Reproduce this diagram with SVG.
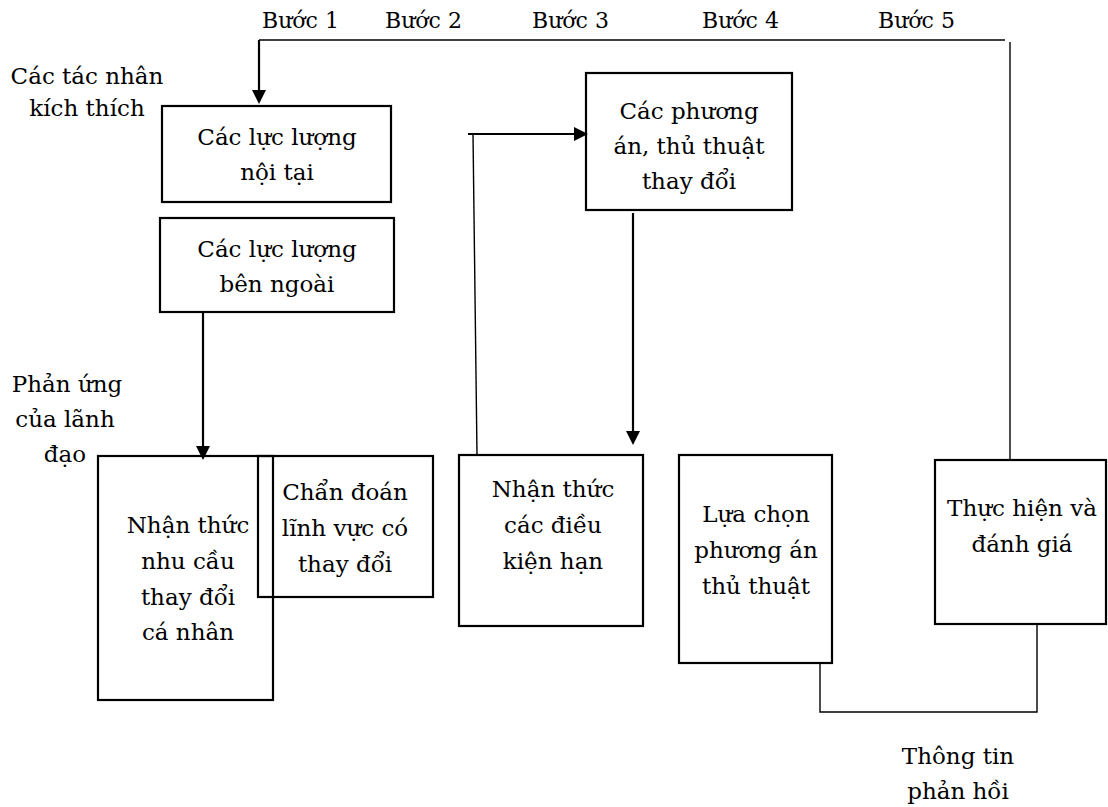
<svg xmlns="http://www.w3.org/2000/svg" width="1108" height="807" viewBox="0 0 1108 807">
  <style>
    text { font-family: "DejaVu Serif", "Liberation Serif", serif; font-size: 23px; fill: #000; }
    .step { font-size: 22px; }
    .mid { text-anchor: middle; }
    .box { fill: none; stroke: #000; stroke-width: 2.2; }
    .arrow { fill: none; stroke: #000; stroke-width: 2.2; }
    .thin { fill: none; stroke: #000; stroke-width: 1.4; }
  </style>
  <defs>
    <marker id="head" viewBox="0 0 14 14" refX="6" refY="7" markerWidth="14" markerHeight="14" markerUnits="userSpaceOnUse" orient="auto">
      <path d="M0,0 L14,7 L0,14 z" fill="#000"/>
    </marker>
  </defs>
  <rect width="1108" height="807" fill="#fff"/>

  <!-- step labels along the top rail -->
  <g id="steps">
    <text class="step" x="262" y="28">Bước 1</text>
    <text class="step" x="385" y="28">Bước 2</text>
    <text class="step" x="532" y="28">Bước 3</text>
    <text class="step" x="702" y="28">Bước 4</text>
    <text class="step" x="878" y="28">Bước 5</text>
  </g>

  <!-- side captions -->
  <g id="label-stimuli">
    <text class="mid" x="87" y="84">Các tác nhân</text>
    <text class="mid" x="87" y="116">kích thích</text>
  </g>
  <g id="label-response">
    <text class="mid" x="67" y="392">Phản ứng</text>
    <text class="mid" x="65" y="427">của lãnh</text>
    <text class="mid" x="65" y="462">đạo</text>
  </g>
  <g id="label-feedback">
    <text class="mid" x="958" y="764">Thông tin</text>
    <text class="mid" x="958" y="799">phản hồi</text>
  </g>

  <!-- connectors -->
  <g id="connectors">
    <path class="thin" d="M259,40 H1005"/>
    <path class="thin" d="M1010,42 V460"/>
    <path class="arrow" d="M259,40 V96" marker-end="url(#head)"/>
    <path class="arrow" d="M203,312 V452" marker-end="url(#head)"/>
    <path class="arrow" d="M468,134 H580" marker-end="url(#head)"/>
    <path class="thin" d="M473,134 L477,455" stroke-width="1.1"/>
    <path class="arrow" d="M633,213 V437" marker-end="url(#head)"/>
    <path class="thin" d="M820,663 V712 H1037 V624"/>
  </g>

  <!-- nodes -->
  <g id="internal-forces">
    <rect class="box" x="162" y="106" width="229" height="96"/>
    <text class="mid" x="277" y="145">Các lực lượng</text>
    <text class="mid" x="277" y="180">nội tại</text>
  </g>
  <g id="external-forces">
    <rect class="box" x="160" y="218" width="234" height="94"/>
    <text class="mid" x="277" y="257">Các lực lượng</text>
    <text class="mid" x="277" y="292">bên ngoài</text>
  </g>
  <g id="need-recognition">
    <rect class="box" x="98" y="456" width="175" height="244"/>
    <text class="mid" x="188" y="533">Nhận thức</text>
    <text class="mid" x="188" y="569">nhu cầu</text>
    <text class="mid" x="188" y="605">thay đổi</text>
    <text class="mid" x="188" y="640">cá nhân</text>
  </g>
  <g id="diagnosis">
    <rect class="box" x="258" y="456" width="175" height="141"/>
    <text class="mid" x="345" y="500">Chẩn đoán</text>
    <text class="mid" x="345" y="536">lĩnh vực có</text>
    <text class="mid" x="345" y="572">thay đổi</text>
  </g>
  <g id="alternatives">
    <rect class="box" x="586" y="73" width="206" height="137"/>
    <text class="mid" x="689" y="119">Các phương</text>
    <text class="mid" x="689" y="154">án, thủ thuật</text>
    <text class="mid" x="689" y="189">thay đổi</text>
  </g>
  <g id="constraints">
    <rect class="box" x="459" y="455" width="184" height="171"/>
    <text class="mid" x="553" y="497">Nhận thức</text>
    <text class="mid" x="553" y="533">các điều</text>
    <text class="mid" x="553" y="569">kiện hạn</text>
  </g>
  <g id="selection">
    <rect class="box" x="679" y="455" width="153" height="208"/>
    <text class="mid" x="756" y="522">Lựa chọn</text>
    <text class="mid" x="756" y="558">phương án</text>
    <text class="mid" x="756" y="594">thủ thuật</text>
  </g>
  <g id="implementation">
    <rect class="box" x="935" y="460" width="171" height="164"/>
    <text class="mid" x="1022" y="516">Thực hiện và</text>
    <text class="mid" x="1022" y="552">đánh giá</text>
  </g>
</svg>
